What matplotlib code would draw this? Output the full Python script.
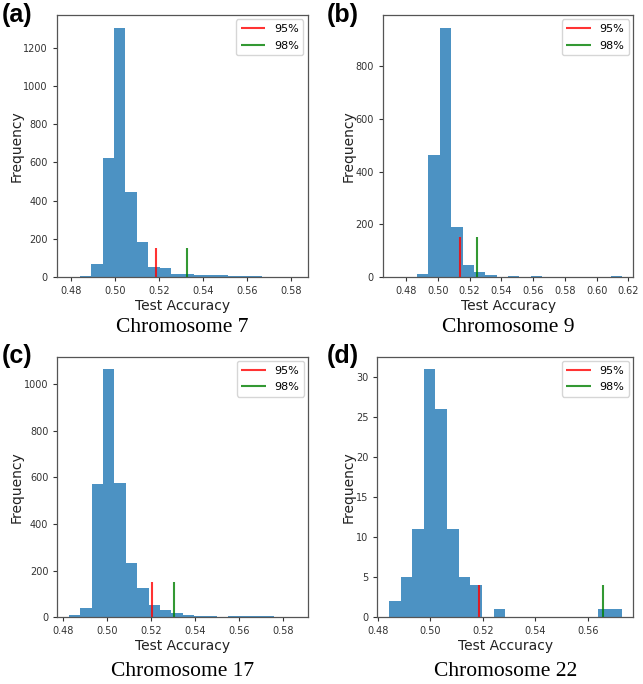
import matplotlib
matplotlib.use("Agg")
import matplotlib.pyplot as plt
import numpy as np

# Histogram counts (20 bins per panel)
panel_labels = ["(a)", "(b)", "(c)", "(d)"]
captions = ["Chromosome 7", "Chromosome 9", "Chromosome 17", "Chromosome 22"]

bins_a = (0.4788, 0.5822)
counts_a = [1, 3, 68, 626, 1307, 443, 181, 54, 46, 14, 14, 9, 9, 9, 3, 3, 3, 0, 0, 1]

bins_b = (0.4725, 0.6160)
counts_b = [1, 0, 13, 463, 946, 190, 44, 18, 6, 0, 2, 0, 2, 0, 0, 0, 0, 0, 0, 2]

bins_c = (0.4825, 0.5863)
counts_c = [11, 40, 570, 1064, 577, 231, 124, 53, 31, 20, 8, 5, 5, 1, 4, 4, 4, 4, 0, 1]

bins_d = (0.4842, 0.5729)
counts_d = [2, 5, 11, 31, 26, 11, 5, 4, 0, 1, 0, 0, 0, 0, 0, 0, 0, 0, 1, 1]

# 95% / 98% thresholds and the height of the marker lines
thr95 = [0.5185, 0.5142, 0.5205, 0.5184]
thr98 = [0.5326, 0.5244, 0.5302, 0.5657]
line_top = [150, 150, 150, 4]

all_bins = [bins_a, bins_b, bins_c, bins_d]
all_counts = [counts_a, counts_b, counts_c, counts_d]

fig = plt.figure(figsize=(6.43, 6.84), dpi=100)

# axes boxes in figure fraction
boxes = [
    [0.0886, 0.595, 0.390, 0.383],
    [0.5952, 0.595, 0.390, 0.383],
    [0.0893, 0.0975, 0.390, 0.381],
    [0.5868, 0.0975, 0.398, 0.381],
]
label_pos = [(0.003, 0.978), (0.508, 0.978), (0.003, 0.480), (0.508, 0.480)]
caption_y = [1 - 328 / 684, 1 - 328 / 684, 1 - 672 / 684, 1 - 672 / 684]

for i in range(4):
    ax = fig.add_axes(boxes[i])
    lo, hi = all_bins[i]
    edges = np.linspace(lo, hi, 21)
    ax.hist(edges[:-1], bins=edges, weights=all_counts[i],
            color="#1f77b4", alpha=0.8)
    ax.vlines(thr95[i], 0, line_top[i], colors="red", alpha=0.8,
              linewidth=1.5, label="95%")
    ax.vlines(thr98[i], 0, line_top[i], colors="green", alpha=0.8,
              linewidth=1.5, label="98%")

    ax.xaxis.set_major_locator(plt.MultipleLocator(0.02))
    ax.xaxis.set_major_formatter(plt.FormatStrFormatter("%.2f"))
    ax.tick_params(labelsize=7, colors="#333333", length=3, width=0.8)
    for s in ax.spines.values():
        s.set_color("#555555")
        s.set_linewidth(0.9)

    ax.set_xlabel("Test Accuracy", fontsize=10, color="#222222", labelpad=2)
    ax.set_ylabel("Frequency", fontsize=10, color="#222222", labelpad=0)

    leg = ax.legend(loc="upper right", fontsize=8, handlelength=2.2,
                    labelspacing=0.6, borderaxespad=0.4)
    leg.get_frame().set_edgecolor("#cccccc")

    # caption below each panel
    cx = boxes[i][0] + boxes[i][2] / 2
    fig.text(cx, caption_y[i], captions[i], ha="center", va="center",
             fontsize=15.5, family="Liberation Serif")

    fig.text(label_pos[i][0], label_pos[i][1], panel_labels[i],
             fontsize=18, fontweight="bold", family="Liberation Sans",
             ha="left", va="center")

plt.savefig("out.png", dpi=100)
